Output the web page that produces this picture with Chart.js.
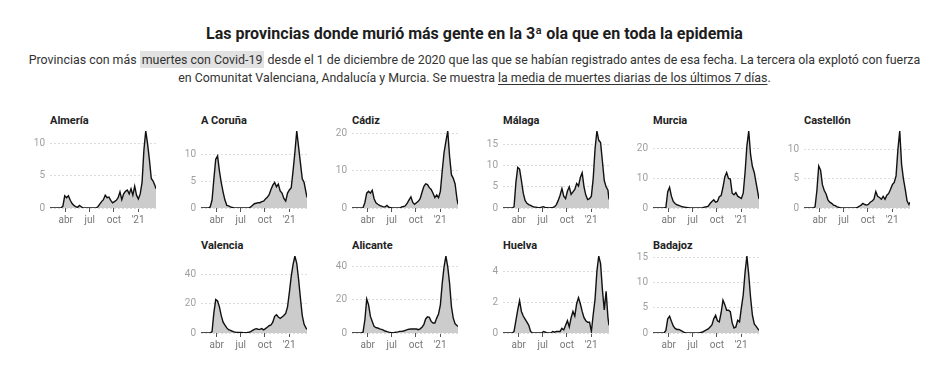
<!DOCTYPE html>
<html>
<head>
<meta charset="utf-8">
<script src="https://cdn.jsdelivr.net/npm/chart.js@4.4.0/dist/chart.umd.min.js"></script>
<style>
  body { margin: 0; background: #fff; font-family: Roboto, "Noto Sans", sans-serif; }
  #wrap { position: relative; width: 949px; height: 366px; overflow: hidden; }
  h1 { position: absolute; top: 24px; left: 0; width: 949px; margin: 0; text-align: center;
       font-size: 16px; font-weight: 700; color: #1d1d1d; line-height: 20px; }
  .sub { position: absolute; top: 51px; left: 0; width: 949px; margin: 0; text-align: center;
         font-size: 12.4px; line-height: 18px; color: #333; }
  .hl { background: #e2e2e2; padding: 1px 2px; }
  .sub u { text-underline-offset: 2px; }
  .tit { position: absolute; font-size: 11px; font-weight: 700; color: #222; line-height: 13px; white-space: nowrap; }
  canvas { position: absolute; }
</style>
</head>
<body>
<div id="wrap">
  <h1>Las provincias donde murió más gente en la 3ª ola que en toda la epidemia</h1>
  <p class="sub">Provincias con más <span class="hl">muertes con Covid-19</span> desde el 1 de diciembre de 2020 que las que se habían registrado antes de esa fecha. La tercera ola explotó con fuerza<br>en Comunitat Valenciana, Andalucía y Murcia. Se muestra <u>la media de muertes diarias de los últimos 7 días</u>.</p>
</div>
<script>
// fechas (semanales) de la media de 7 días
const fechas = [
  '2020-02-01','2020-02-08','2020-02-15','2020-02-22','2020-02-29','2020-03-07','2020-03-14','2020-03-21',
  '2020-03-28','2020-04-04','2020-04-11','2020-04-18','2020-04-25','2020-05-02','2020-05-09','2020-05-16',
  '2020-05-23','2020-05-30','2020-06-06','2020-06-13','2020-06-20','2020-06-27','2020-07-04','2020-07-11',
  '2020-07-18','2020-07-25','2020-08-01','2020-08-08','2020-08-15','2020-08-22','2020-08-29','2020-09-05',
  '2020-09-12','2020-09-19','2020-09-26','2020-10-03','2020-10-10','2020-10-17','2020-10-24','2020-10-31',
  '2020-11-07','2020-11-14','2020-11-21','2020-11-28','2020-12-05','2020-12-12','2020-12-19','2020-12-26',
  '2021-01-02','2021-01-09','2021-01-16','2021-01-23','2021-01-30','2021-02-06','2021-02-13','2021-02-20',
  '2021-02-27','2021-03-06','2021-03-10'
];

const marcasX = ['2020-04-01', '2020-07-01', '2020-10-01', '2021-01-01'];
const etiquetasX = ['abr', 'jul', 'oct', "'21"];

const provincias = ['Almería', 'A Coruña', 'Cádiz', 'Málaga', 'Murcia', 'Castellón',
                    'Valencia', 'Alicante', 'Huelva', 'Badajoz'];
const pasosY = [5, 5, 10, 5, 10, 5, 20, 20, 2, 5];

const almeria = [0,0,0,0,0,0,0,
  0.3,1.9,1.6,1.9,1.2,0.7,0.4,0.2,0.1,0.4,0.2,
  0,0,0,0,0,0,0,0,
  0.2,0.6,1.0,1.3,2.0,1.6,1.7,1.2,0.8,
  1.0,1.2,1.6,2.5,1.3,2.2,2.6,2.8,2.2,3.0,2.0,3.4,2.0,
  1.4,2.2,4.0,9.0,12.0,10.0,7.5,4.6,4.2,3.5,3.0];
const coruna = [0,0,0,0,0,
  0.2,1.5,5.5,9.2,9.8,7.0,4.8,3.0,1.5,0.5,0.4,0.2,0.1,
  0,0,0,0,0,0,0,0,0,
  0.2,0.5,0.8,0.9,1.0,1.0,1.2,1.3,
  1.7,2.0,2.5,3.5,4.3,4.8,4.0,4.5,3.2,2.8,1.8,1.3,2.8,
  3.4,3.8,7.0,10.5,14.5,11.5,8.5,5.5,4.8,3.0,2.0];
const cadiz = [0,0,0,0,0,0,
  0.1,1.5,4.0,4.5,4.0,4.8,2.5,1.4,1.0,0.7,0.5,0.3,0.3,0.7,0.2,0.1,
  0,0,0,0,0,
  0.3,0.4,0.6,1.3,2.2,3.0,1.5,1.0,
  1.4,1.8,2.5,4.2,5.8,6.5,6.3,5.5,5.0,4.0,2.8,3.5,2.8,
  4.5,10.0,15.0,18.0,20.8,14.0,9.0,8.0,6.5,2.5,1.0];
const malaga = [0,0,0,0,0,0,
  0.3,6.0,9.6,9.2,6.5,3.5,1.8,1.1,0.8,0.6,0.4,0.2,0.2,0.1,0.1,0.2,0.3,0.1,0.1,0,0.1,0.1,
  0.3,0.8,1.8,3.0,4.6,2.8,2.2,4.0,5.0,3.2,3.8,4.4,5.8,5.2,7.2,8.3,5.0,3.0,2.0,2.2,
  2.8,7.0,14.0,18.2,16.0,15.5,11.0,6.5,5.0,4.2,2.0];
const murcia = [0,0,0,0,0,0,0,
  0.2,5.5,7.0,4.0,2.2,1.5,1.1,0.9,0.6,0.4,0.3,0.2,
  0.1,0,0,0,0,0,0,0,
  0.1,0.3,0.4,0.6,1.5,2.2,2.8,2.0,2.2,3.8,4.2,7.0,10.5,12.0,10.0,9.8,5.0,4.5,5.2,4.0,3.6,
  3.2,5.0,12.0,21.0,26.0,18.0,14.0,12.0,8.5,5.0,3.0];
const castellon = [0,0,0,0,0,0,
  0.2,3.0,7.2,6.5,4.0,3.0,2.4,1.4,1.0,0.8,0.5,0.4,0.2,0.1,
  0,0,0,0,0,0,0,0,0,
  0.1,0.3,0.5,0.8,0.6,0.5,0.6,1.0,1.2,1.5,2.8,2.0,1.8,1.5,2.0,1.5,2.2,2.5,3.2,
  4.0,4.4,5.5,10.0,13.2,7.5,5.0,3.2,1.2,0.6,1.0];
const valencia = [0,0,0,0,0,0,
  1.0,14,23,22,18,12,7.5,5.5,3.5,2.3,1.8,1.2,0.8,0.5,0.4,0.3,0.3,0.2,0.2,0.3,0.5,
  1.0,1.8,2.5,3.0,2.6,2.5,3.0,2.2,3.0,4.0,5.0,5.5,7.5,11.5,12.5,11.0,10.0,11.0,12.0,13.5,18,
  28,39,47,53,48,37,24,12,6,3.5,2.5];
const alicante = [0,0,0,0,0,0,
  0.5,8,20.5,17,10,7,4,3.2,3.0,2.5,2.2,1.8,1.2,0.8,0.5,0.3,0.2,0.3,0.5,0.7,1.0,
  1.0,1.2,1.6,2.0,2.3,2.5,2.4,2.5,2.4,2.0,2.5,3.5,5.0,8.5,9.8,9.5,7.0,6.0,6.0,9.0,11.5,
  17,30,40,46.5,40,30,16,9,5.5,4.5,4.0];
const huelva = [0,0,0,0,0,0,
  0.1,0.8,1.5,2.1,1.4,1.1,0.9,0.7,0.5,0.1,
  0,0,0,0,0,0,
  0.1,0.05,0,0,0,0.1,0.05,0.1,0.1,0.1,
  0.3,0.2,0.5,0.8,0.4,1.0,1.4,1.1,1.9,2.3,1.9,1.4,1.0,0.8,0.7,0.7,
  0.1,1.2,2.2,4.0,5.0,4.5,2.8,1.5,2.7,1.0,0.5];
const badajoz = [0,0,0,0,0,0,0,
  0.5,2.8,3.3,2.3,1.4,0.9,0.7,0.7,0.5,0.3,0.1,
  0,0,0,0,0,0,0,0,
  0.1,0.2,0.4,0.6,0.8,1.2,1.6,2.8,3.5,2.4,2.2,4.0,6.5,5.6,4.5,4.5,4.2,2.0,1.0,1.2,2.5,2.2,
  5.0,7.5,12.0,15.2,11.5,7.0,3.5,1.8,1.3,0.8,0.5];

const series = [almeria, coruna, cadiz, malaga, murcia, castellon, valencia, alicante, huelva, badajoz];

Chart.defaults.font.family = 'Roboto, "Noto Sans", sans-serif';

const t0 = Date.parse(fechas[0]);
const aDia = f => (Date.parse(f) - t0) / 86400000;
const dias = fechas.map(aDia);
const diasMarcas = marcasX.map(aDia);

// posición de cada panel: borde izquierdo del área de datos y fila
const huecos = [[50, 0], [201, 0], [352, 0], [503, 0], [653, 0], [804, 0],
                [201, 1], [352, 1], [503, 1], [653, 1]];
const topCanvas = [120, 245];
const topTitulo = [113.5, 238.5];

const wrap = document.getElementById('wrap');

provincias.forEach((nombre, i) => {
    const [izq, fila] = huecos[i];
    const serie = series[i];

    const tit = document.createElement('div');
    tit.className = 'tit';
    tit.style.left = izq + 'px';
    tit.style.top = topTitulo[fila] + 'px';
    tit.textContent = nombre;
    wrap.appendChild(tit);

    const cv = document.createElement('canvas');
    cv.width = 140;
    cv.height = 110;
    cv.style.left = (izq - 30) + 'px';
    cv.style.top = topCanvas[fila] + 'px';
    wrap.appendChild(cv);

    new Chart(cv.getContext('2d'), {
        type: 'line',
        data: {
            datasets: [{
                data: serie.map((v, j) => ({ x: dias[j], y: v })),
                fill: 'origin',
                backgroundColor: '#cccccc',
                borderColor: '#111',
                borderWidth: 1.4,
                pointRadius: 0,
                tension: 0
            }]
        },
        options: {
            responsive: false,
            animation: false,
            layout: { padding: { top: 8, right: 4, left: 0, bottom: 0 } },
            plugins: { legend: { display: false }, tooltip: { enabled: false } },
            scales: {
                x: {
                    type: 'linear',
                    min: dias[0],
                    max: dias[dias.length - 1],
                    afterBuildTicks: s => { s.ticks = diasMarcas.map(v => ({ value: v })); },
                    afterFit: s => { s.height = 22; },
                    ticks: {
                        autoSkip: false,
                        maxRotation: 0,
                        padding: 2,
                        color: '#777',
                        font: { size: 10 },
                        callback: (v, j) => etiquetasX[j]
                    },
                    grid: { drawOnChartArea: false, tickLength: 4, tickColor: '#555' },
                    border: { display: false }
                },
                y: {
                    min: 0,
                    max: Math.max(...serie),
                    afterFit: s => { s.width = 30; },
                    ticks: {
                        stepSize: pasosY[i],
                        includeBounds: false,
                        padding: 5,
                        color: '#a0a0a0',
                        font: { size: 10 }
                    },
                    grid: { color: '#dcdcdc', drawTicks: false },
                    border: { display: false, dash: [2, 2] }
                }
            }
        }
    });
});
</script>
</body>
</html>
